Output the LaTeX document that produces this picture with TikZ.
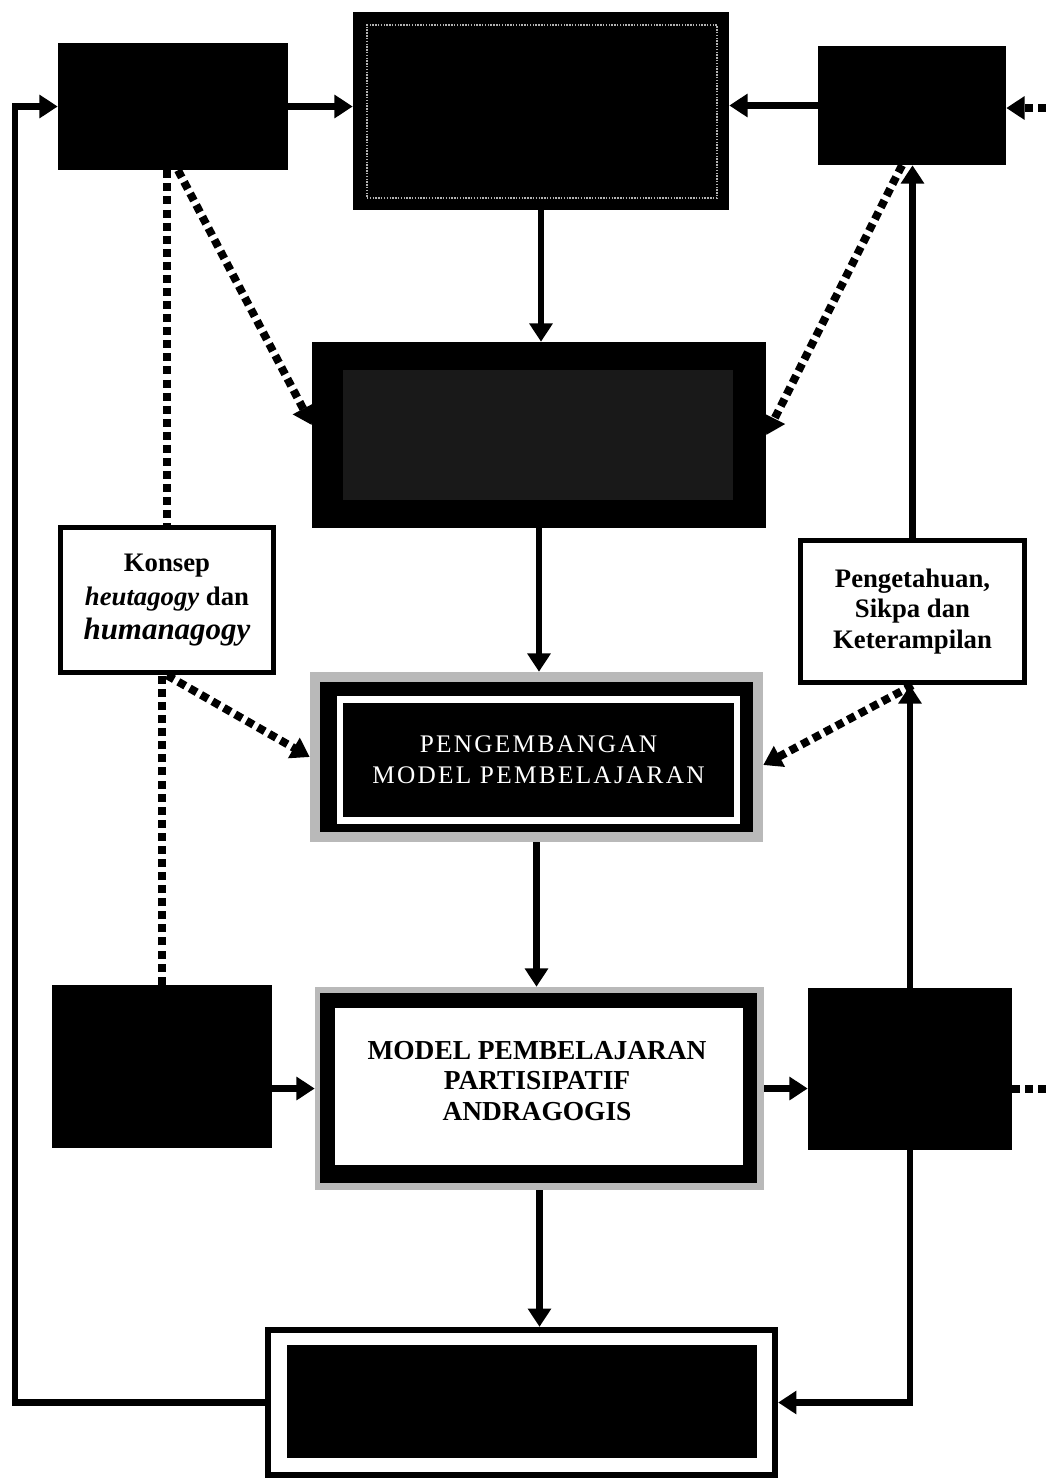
\documentclass[tikz,border=0pt]{standalone}
\usepackage{fontspec}
\setmainfont{Liberation Serif}
\usetikzlibrary{arrows.meta}
\newcommand{\pxu}{0.025cm}

\begin{document}
\begin{tikzpicture}[x=0.025cm, y=-0.025cm,
  flow/.style={line width=4.5pt, -{Triangle[length=13pt,width=16pt]}},
  dots/.style={line width=5.7pt, dash pattern=on 5.7pt off 3.6pt},
  dotflow/.style={dots, -{Triangle[length=13pt,width=16pt]}},
  blk/.style={fill=black, inner sep=0pt},
  txtbox/.style={draw=black, line width=4pt, fill=white, align=center, inner sep=0pt,
    font=\fontsize{19}{22}\selectfont\bfseries}]
  \useasboundingbox (0,0) rectangle (1046,1482);
  \clip (0,0) rectangle (1046,1482);

  \node[blk, minimum width=230*\pxu, minimum height=127*\pxu] (lt) at (173,106.5) {};
  \node[blk, minimum width=376*\pxu, minimum height=198*\pxu] (top) at (541,111) {};
  \node[draw=gray!60, line width=1pt, densely dotted, inner sep=0pt,
    minimum width=350*\pxu, minimum height=173*\pxu] (topin) at (542,111.5) {};
  \node[blk, minimum width=188*\pxu, minimum height=119*\pxu] (rt) at (912,105.5) {};

  \node[blk, minimum width=454*\pxu, minimum height=186*\pxu] (mid) at (539,435) {};
  \node[fill=black!90, inner sep=0pt, minimum width=390*\pxu, minimum height=130*\pxu] (midin) at (538,435) {};

  \node[txtbox, minimum width=213*\pxu, minimum height=145*\pxu, font=\fontsize{19}{24}\selectfont\bfseries]
    (kon) at (167,600)
    {Konsep\\\textit{heutagogy} dan\\{\fontsize{22}{26}\selectfont\textit{humanagogy}}};
  \node[txtbox, minimum width=224*\pxu, minimum height=142*\pxu] (ket) at (912.5,611.5)
    {Pengetahuan,\\Sikpa dan\\Keterampilan};

  \node[fill=gray!55, inner sep=0pt, minimum width=453*\pxu, minimum height=170*\pxu] (devout) at (536.5,757) {};
  \node[blk, minimum width=433*\pxu, minimum height=150*\pxu] (devmid) at (536.5,757) {};
  \node[blk, draw=white, line width=4.5pt, minimum width=397*\pxu, minimum height=121*\pxu,
    text=white, align=center, font=\fontsize{18}{22}\selectfont\addfontfeature{LetterSpace=9}]
    (dev) at (538.5,760) {PENGEMBANGAN\\MODEL PEMBELAJARAN};

  \node[fill=gray!55, inner sep=0pt, minimum width=449*\pxu, minimum height=203*\pxu] (modout) at (539.5,1088.5) {};
  \node[blk, minimum width=437*\pxu, minimum height=190*\pxu] (modmid) at (538.5,1088) {};
  \node[fill=white, inner sep=0pt, minimum width=408*\pxu, minimum height=157*\pxu] (mod) at (539,1086.5) {};
  \node[align=center, font=\fontsize{19.5}{21.5}\selectfont\bfseries]
    (modtxt) at (537,1081) {MODEL PEMBELAJARAN\\PARTISIPATIF\\ANDRAGOGIS};

  \node[blk, minimum width=220*\pxu, minimum height=163*\pxu] (lb) at (162,1066.5) {};
  \node[blk, minimum width=204*\pxu, minimum height=162*\pxu] (rb) at (910,1069) {};

  \node[draw=black, fill=white, line width=4.5pt, inner sep=0pt,
    minimum width=507*\pxu, minimum height=145*\pxu] (outk) at (521.5,1402.5) {};
  \node[blk, minimum width=470*\pxu, minimum height=113*\pxu] (kin) at (522,1401.5) {};

  \coordinate (loop) at (15,1400);
  \coordinate (rin) at (1046,108);
  \coordinate (rout) at (1049.5,825);

  \draw[flow] (lt.east) -- (lt.east -| top.west);
  \draw[flow] (rt.west) -- (rt.west -| top.east);
  \draw[flow] (top.south) -- (top.south |- mid.north);
  \draw[flow] (mid.south) -- (mid.south |- devout.north);
  \draw[flow] (devout.south) -- (devout.south |- modout.north);
  \draw[flow] (modout.south) -- (modout.south |- outk.north);
  \draw[flow] (lb.east |- modout.east) -- (modout.west);
  \draw[flow] (modout.east) -- (modout.east -| rb.west);
  \draw[flow] (rb.north) -- (rb.north |- ket.south);
  \draw[flow] (ket.north) -- (ket.north |- rt.south);
  \draw[flow] (rb.south) |- (outk.east);
  \draw[flow] (outk.west) -- (outk.west -| loop) |- (lt.west);

  \draw[dotflow] (rin) -- (rin -| rt.east);
  \draw[dots] (lt.south -| kon.north) -- (kon.north);
  \draw[dotflow] ([xshift=5*\pxu]lt.south) -- ([yshift=10*\pxu]mid.west);
  \draw[dotflow] ([xshift=-10*\pxu]rt.south) -- (mid.east);
  \draw[dotflow] (kon.south) -- (devout.west);
  \draw[dotflow] (ket.south) -- ([yshift=-8*\pxu]devout.east);
  \draw[dots] (lb.north) -- (lb.north |- kon.south);
  \draw[dots] (modout.east -| rb.east) -- (modout.east -| rout) -- (rout);
\end{tikzpicture}
\end{document}
